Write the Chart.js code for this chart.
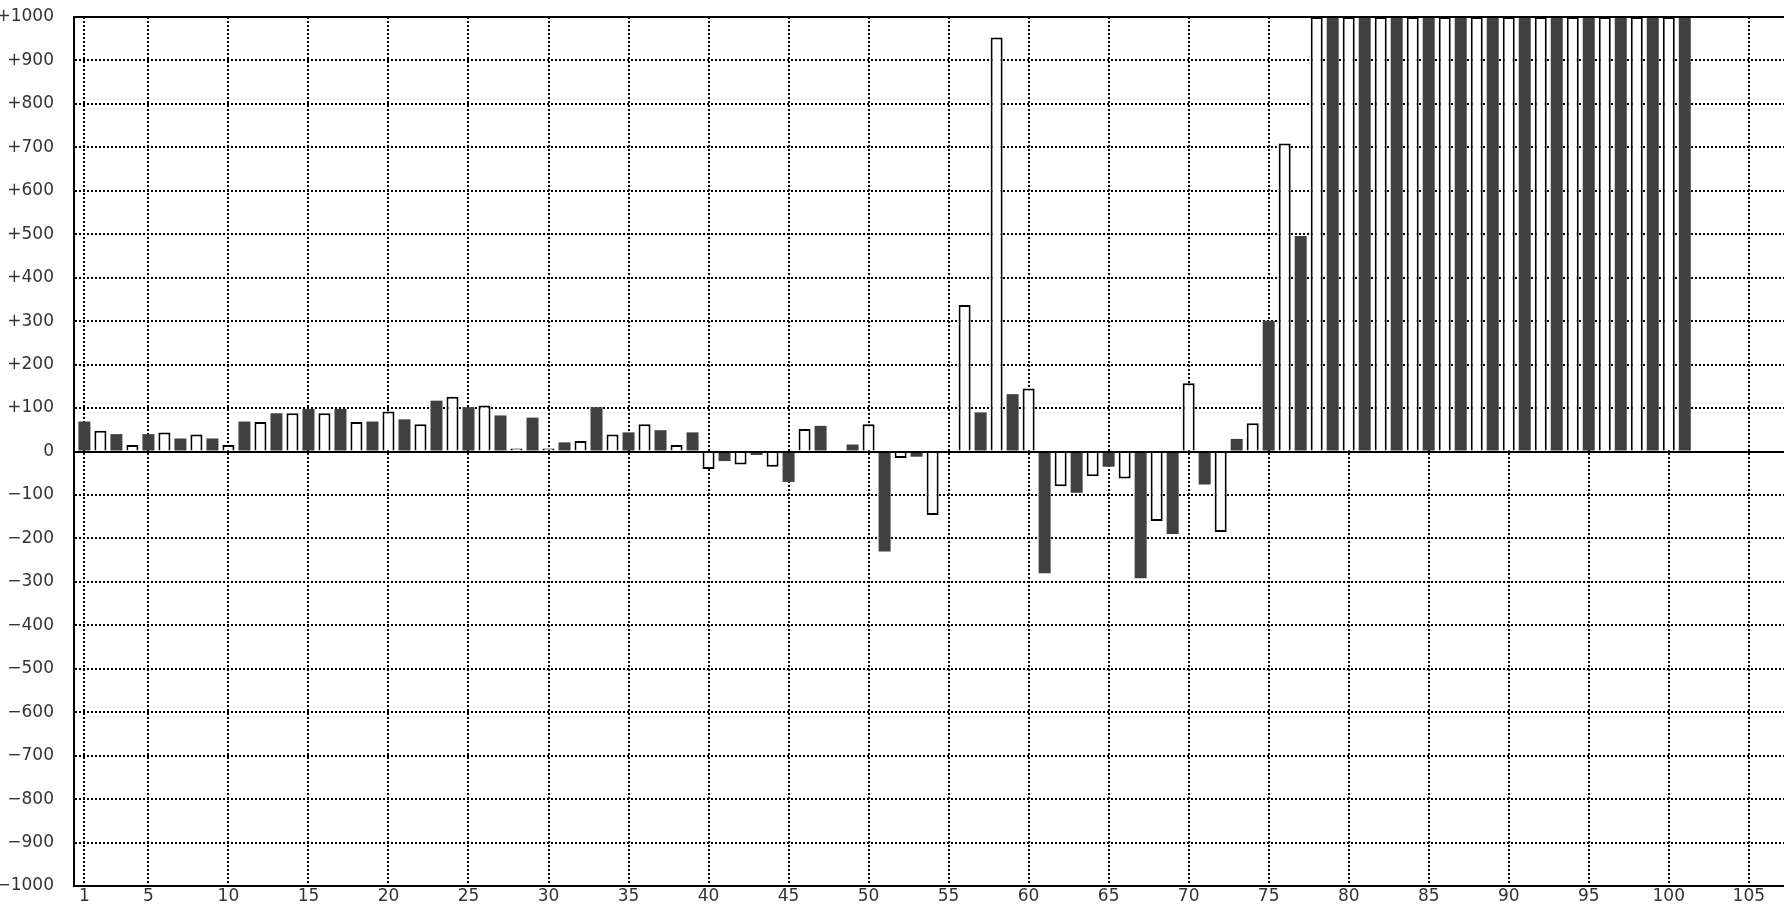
<!DOCTYPE html>
<html>
<head>
<meta charset="utf-8">
<script src="https://cdn.jsdelivr.net/npm/chart.js@4/dist/chart.umd.min.js"></script>
<style>
  html, body { margin: 0; padding: 0; background: #fff; }
  #wrap { width: 1784px; height: 906px; }
</style>
</head>
<body>
<div id="wrap"><canvas id="bar_chart"></canvas></div>
<script>
// bar values, one per position (1..101); bars past +1000 are cut at the top
var values = [
  69, 48, 40, 15, 40, 44, 30, 39, 30, 15,
  69, 68, 88, 88, 98, 88, 98, 68, 69, 92,
  74, 63, 117, 126, 102, 106, 83, 7, 78, 7,
  21, 24, 102, 39, 44, 63, 49, 15, 44, -40,
  -22, -30, -8, -35, -70, 52, 59, 0, 16, 63,
  -230, -15, -12, -146, 0, 337, 90, 953, 132, 145,
  -280, -80, -95, -57, -35, -62, -292, -160, -190, 157,
  -76, -185, 29, 65, 301, 709, 496, 1000, 1000, 1000,
  1000, 1000, 1000, 1000, 1000, 1000, 1000, 1000, 1000, 1000,
  1000, 1000, 1000, 1000, 1000, 1000, 1000, 1000, 1000, 1000,
  1000
]

var xTickValues = [1, 5, 10, 15, 20, 25, 30, 35, 40, 45, 50, 55, 60, 65, 70, 75, 80, 85, 90, 95, 100, 105]
var yTickValues = [-1000, -900, -800, -700, -600, -500, -400, -300, -200, -100, 0,
                   100, 200, 300, 400, 500, 600, 700, 800, 900, 1000]

var dark = '#404040'

// position i+1 for value i
var points = values.map(function(v, i) { return { x: i + 1, y: v } })

// solid top frame and zero line over the dotted grid
var frameLines = {
  id: 'frameLines',
  afterDatasetsDraw: function(chart) {
    var ctx = chart.ctx
    var area = chart.chartArea
    var yScale = chart.scales.y
    ctx.save()
    ctx.strokeStyle = '#000'
    ctx.lineWidth = 2
    ;[0, yTickValues[yTickValues.length - 1]].forEach(function(v) {
      var y = Math.round(yScale.getPixelForValue(v))
      ctx.beginPath()
      ctx.moveTo(area.left, y)
      ctx.lineTo(area.right, y)
      ctx.stroke()
    })
    ctx.restore()
  }
}

Chart.defaults.font.family = '"DejaVu Sans", sans-serif'
Chart.defaults.font.size = 17
Chart.defaults.color = '#333'

var chart_element = document.getElementById('bar_chart').getContext('2d')
var myChart = new Chart(chart_element, {
  type: 'bar',
  data: {
    datasets: [{
      data: points,
      backgroundColor: function(ctx) { return ctx.dataIndex % 2 === 0 ? dark : '#fff' },
      borderColor: '#000',
      borderWidth: function(ctx) { return ctx.dataIndex % 2 === 0 ? 0 : 2 },
      barPercentage: 0.75,
      categoryPercentage: 1
    }]
  },
  plugins: [frameLines],
  options: {
    responsive: true,
    maintainAspectRatio: false,
    animation: false,
    layout: { padding: { top: 17, left: 0, right: 0, bottom: 0 } },
    plugins: {
      legend: { display: false },
      tooltip: { enabled: false }
    },
    scales: {
      x: {
        type: 'linear',
        offset: false,
        min: 0.35,
        max: 107.2,
        afterBuildTicks: function(scale) {
          scale.ticks = xTickValues.map(function(v) { return { value: v } })
        },
        afterFit: function(scale) { scale.height = 20 },
        grid: { offset: false, color: '#000', lineWidth: 2, drawTicks: false },
        border: { display: true, color: '#000', width: 2, dash: [2, 2] },
        ticks: { padding: 0, autoSkip: false, maxRotation: 0 }
      },
      y: {
        min: -1000,
        max: 1000,
        afterBuildTicks: function(scale) {
          scale.ticks = yTickValues.map(function(v) { return { value: v } })
        },
        afterFit: function(scale) { scale.width = 74 },
        grid: {
          color: '#000', lineWidth: 2,
          drawTicks: true, tickLength: 20, tickColor: 'rgba(0,0,0,0)'
        },
        border: { display: true, color: '#000', width: 2, dash: [2, 2] },
        ticks: {
          padding: 0,
          callback: function(value) {
            if (value > 0) return '+' + value
            if (value < 0) return '\u2212' + Math.abs(value)
            return '0'
          }
        }
      }
    }
  }
})
</script>
</body>
</html>
